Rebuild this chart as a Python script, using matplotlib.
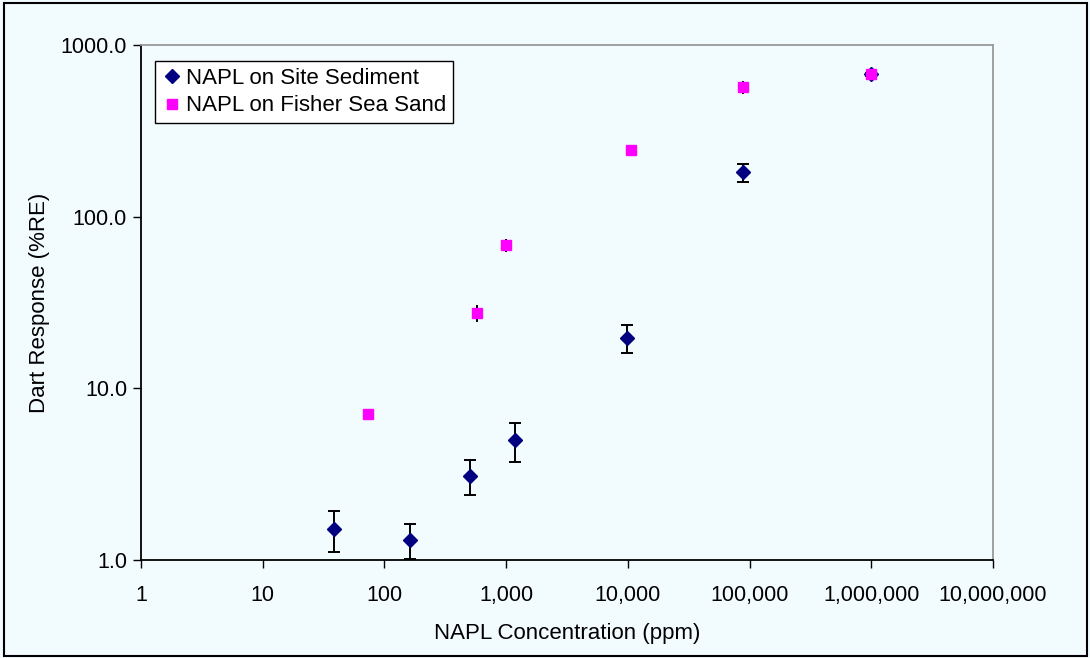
import matplotlib.pyplot as plt
from matplotlib.patches import Rectangle
from matplotlib.ticker import FixedLocator, FuncFormatter, NullLocator

plt.rcParams['font.family'] = ['Liberation Sans', 'DejaVu Sans']

# NAPL on Site Sediment
site_x = [38.5, 163, 502, 1183, 9910, 87900, 990000]
site_y = [1.52, 1.31, 3.1, 5.0, 19.7, 182, 674]
site_err = [0.4, 0.3, 0.7, 1.3, 3.6, 22, 15]

# NAPL on Fisher Sea Sand
sand_x = [72.9, 576, 1000, 10600, 87900, 990000]
sand_y = [7.1, 27.5, 68, 245, 569, 674]
sand_err = [0.5, 3.0, 6.0, 8, 50, 15]

x_ticks = [1, 10, 100, 1000, 10000, 100000, 1000000, 10000000]
y_ticks = [1, 10, 100, 1000]

bg = '#F2FBFE'

fig = plt.figure(figsize=(10.9, 6.58), dpi=100, facecolor=bg)
ax = fig.add_axes([141 / 1090, 1 - 560 / 658, (993 - 141) / 1090, (560 - 45) / 658])
ax.set_facecolor(bg)

ax.errorbar(site_x, site_y, yerr=site_err, fmt='D', color='#000080', ms=7.5,
            ecolor='black', elinewidth=1.4, capsize=4, capthick=1.4,
            label='NAPL on Site Sediment', zorder=3)
ax.errorbar(sand_x, sand_y, yerr=sand_err, fmt='s', color='#FF00FF', ms=7,
            ecolor='black', elinewidth=1.4, capsize=0,
            label='NAPL on Fisher Sea Sand', zorder=4)

ax.set_xscale('log')
ax.set_yscale('log')
ax.set_xlim(1, 1e7)
ax.set_ylim(1, 1000)
ax.xaxis.set_major_locator(FixedLocator(x_ticks))
ax.yaxis.set_major_locator(FixedLocator(y_ticks))
ax.xaxis.set_minor_locator(NullLocator())
ax.yaxis.set_minor_locator(NullLocator())
ax.xaxis.set_major_formatter(FuncFormatter(lambda v, p: f'{int(round(v)):,}'))
ax.yaxis.set_major_formatter(FuncFormatter(lambda v, p: f'{v:.1f}'))
ax.tick_params(axis='both', direction='out', length=6, width=1, labelsize=15.5,
               colors='black')
ax.tick_params(axis='x', pad=12)
ax.tick_params(axis='y', pad=4)

ax.spines['left'].set_color('black')
ax.spines['bottom'].set_color('black')
ax.spines['top'].set_color('#999999')
ax.spines['right'].set_color('#999999')
for s in ax.spines.values():
    s.set_linewidth(1.3)

ax.set_xlabel('NAPL Concentration (ppm)', fontsize=16, labelpad=12)
ax.set_ylabel('Dart Response (%RE)', fontsize=16, labelpad=8)

handles, labels = ax.get_legend_handles_labels()
handles = [h[0] for h in handles]
leg = ax.legend(handles, labels, loc='upper left', bbox_to_anchor=(0.016, 0.969),
                fontsize=16, frameon=True, fancybox=False, edgecolor='black',
                facecolor='white', framealpha=1, borderpad=0.3, labelspacing=0.3,
                handletextpad=0.1, handlelength=1.0, borderaxespad=0)
leg.get_frame().set_linewidth(1.0)

fig.patches.append(Rectangle((4 / 1090, 2 / 658), 1083 / 1090, 653 / 658,
                             transform=fig.transFigure, fill=False,
                             edgecolor='black', linewidth=1.5))

fig.savefig('out.png', dpi=100, facecolor=bg)
